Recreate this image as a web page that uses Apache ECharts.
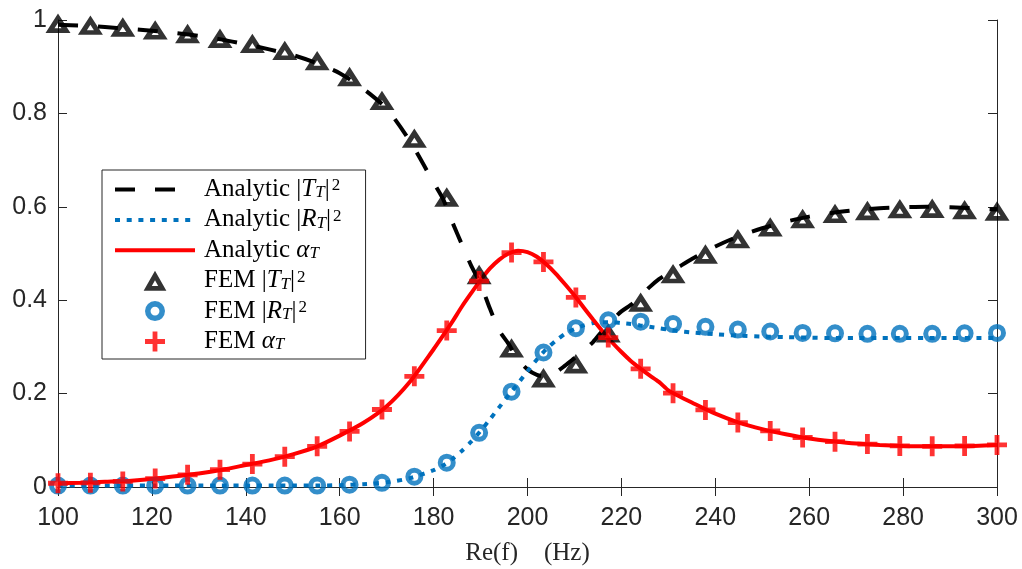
<!DOCTYPE html>
<html>
<head>
<meta charset="utf-8">
<script src="https://cdn.jsdelivr.net/npm/echarts@6/dist/echarts.min.js"></script>
<style>
  html, body { margin: 0; padding: 0; background: #fff; }
  #chart { width: 1022px; height: 569px; }
</style>
</head>
<body>
<div id="chart"></div>
<script>
// Frequency samples of the analytic curves (Hz)
const analyticFreq = [100,105,110,115,120,125,130,135,140,145,150,155,160,165,170,175,180,182,184,186,188,190,192,194,196,198,200,202,204,206,208,210,212,214,216,218,220,222,224,226,228,230,232,235,240,245,250,255,260,265,270,275,280,285,290,295,300];
// Analytic |T_T|^2
const analyticT = [0.990,0.988,0.985,0.981,0.977,0.972,0.966,0.958,0.948,0.937,0.925,0.908,0.886,0.853,0.810,0.740,0.652,0.617,0.567,0.520,0.474,0.435,0.382,0.335,0.306,0.272,0.252,0.240,0.236,0.245,0.260,0.276,0.292,0.311,0.335,0.357,0.376,0.390,0.408,0.428,0.445,0.458,0.470,0.488,0.515,0.537,0.554,0.568,0.579,0.587,0.593,0.597,0.599,0.600,0.599,0.597,0.594];
// Analytic |R_T|^2
const analyticR = [0.003,0.003,0.003,0.003,0.003,0.003,0.003,0.003,0.003,0.003,0.003,0.003,0.004,0.006,0.010,0.019,0.036,0.046,0.060,0.077,0.097,0.120,0.145,0.171,0.197,0.222,0.248,0.273,0.295,0.313,0.328,0.338,0.346,0.351,0.353,0.353,0.351,0.349,0.346,0.343,0.340,0.337,0.334,0.331,0.327,0.324,0.322,0.321,0.320,0.319,0.319,0.319,0.319,0.319,0.319,0.319,0.319];
// Analytic alpha_T
const analyticA = [0.008,0.009,0.011,0.013,0.017,0.023,0.029,0.037,0.047,0.057,0.070,0.086,0.110,0.137,0.173,0.226,0.295,0.324,0.354,0.386,0.415,0.443,0.468,0.487,0.500,0.506,0.503,0.493,0.477,0.457,0.434,0.410,0.384,0.358,0.333,0.310,0.289,0.270,0.254,0.239,0.225,0.207,0.196,0.181,0.157,0.138,0.124,0.113,0.104,0.098,0.093,0.090,0.088,0.087,0.087,0.088,0.090];

// FEM sample frequencies (Hz)
const femFreq = [100,106.9,113.8,120.7,127.6,134.5,141.4,148.3,155.2,162.1,169.0,175.9,182.8,189.7,196.6,203.4,210.3,217.2,224.1,231.0,237.9,244.8,251.7,258.6,265.5,272.4,279.3,286.2,293.1,300];
const femT = [0.993,0.989,0.985,0.979,0.971,0.961,0.950,0.935,0.913,0.879,0.828,0.747,0.621,0.455,0.298,0.234,0.264,0.330,0.396,0.457,0.499,0.532,0.557,0.575,0.586,0.592,0.596,0.597,0.594,0.591];
const femR = [0.003,0.003,0.003,0.003,0.003,0.003,0.003,0.003,0.003,0.005,0.009,0.022,0.052,0.116,0.204,0.288,0.340,0.357,0.354,0.349,0.343,0.337,0.333,0.330,0.329,0.328,0.328,0.328,0.329,0.330];
const femA = [0.008,0.009,0.012,0.018,0.026,0.037,0.049,0.065,0.087,0.119,0.166,0.237,0.335,0.441,0.502,0.482,0.406,0.320,0.253,0.201,0.165,0.138,0.120,0.106,0.097,0.092,0.088,0.087,0.088,0.090];

// Axis ticks
const xTicks = { min: 100, max: 300, interval: 20 };
const yTicks = { min: 0, max: 1, interval: 0.2 };

const pair = (xs, ys) => xs.map((x, i) => [x, ys[i]]);

const BLACK = '#000000';
const BLUE = '#0072BD';
const RED = '#FF0000';
const AXIS = '#262626';
// Filled "+" marker
const PLUS = 'path://M3.8,0H6.2V3.8H10V6.2H6.2V10H3.8V6.2H0V3.8H3.8Z';
// Thick open triangle: outer outline with a reversed inner triangle as the hole
const TRIANGLE = 'path://M12.5,0L25,22L0,22Z M12.5,10.6L9,16.77L16,16.77Z';
// Thick open circle: outer disc with a reversed inner disc as the hole
const RING = 'path://M9,0A9,9 0 1,1 9,18A9,9 0 1,1 9,0Z M9,5A4,4 0 1,0 9,13A4,4 0 1,0 9,5Z';

const names = {
  aT: '{n|Analytic }{n||}{i|T}{sub|T}{n||}{sup|2}',
  aR: '{n|Analytic }{n||}{i|R}{sub|T}{n||}{sup|2}',
  aA: '{n|Analytic }{i|α}{sub|T}',
  fT: '{n|FEM }{n||}{i|T}{sub|T}{n||}{sup|2}',
  fR: '{n|FEM }{n||}{i|R}{sub|T}{n||}{sup|2}',
  fA: '{n|FEM }{i|α}{sub|T}'
};

const serif = '"Liberation Serif", "DejaVu Serif", serif';
const sans = '"Liberation Sans", Arial, Helvetica, sans-serif';

const dashT = { color: BLACK, width: 4, type: [20, 20], cap: 'butt' };
const dotR = { color: BLUE, width: 4, type: [5, 6.7], cap: 'butt' };
const solidA = { color: RED, width: 4, type: 'solid' };

function axisCommon(extra) {
  return Object.assign({
    type: 'value',
    axisLine: { show: true, lineStyle: { color: AXIS, width: 1 } },
    axisTick: { show: true, inside: true, length: 9, lineStyle: { color: AXIS, width: 1 } },
    splitLine: { show: false }
  }, extra);
}

const chart = echarts.init(document.getElementById('chart'), null, { renderer: 'canvas' });

chart.setOption({
  animation: false,
  backgroundColor: '#ffffff',
  grid: { left: 58, right: 25, top: 20, bottom: 82, containLabel: false, outerBoundsMode: 'none' },
  xAxis: [
    axisCommon({
      min: xTicks.min, max: xTicks.max, interval: xTicks.interval,
      position: 'bottom',
      axisLabel: { color: AXIS, fontSize: 25, fontFamily: sans, margin: 19 },
      name: '{a|Re(f)}{b|(Hz)}',
      nameLocation: 'middle',
      nameGap: 54,
      nameTextStyle: {
        rich: {
          a: { fontFamily: serif, fontSize: 25, color: AXIS },
          b: { fontFamily: serif, fontSize: 25, color: AXIS, padding: [0, 0, 0, 26] }
        }
      }
    }),
    axisCommon({
      min: xTicks.min, max: xTicks.max, interval: xTicks.interval,
      position: 'top',
      axisLabel: { show: false }
    })
  ],
  yAxis: [
    axisCommon({
      min: yTicks.min, max: yTicks.max, interval: yTicks.interval,
      position: 'left',
      axisLabel: { color: AXIS, fontSize: 25, fontFamily: sans, margin: 11 }
    }),
    axisCommon({
      min: yTicks.min, max: yTicks.max, interval: yTicks.interval,
      position: 'right',
      axisLabel: { show: false }
    })
  ],
  legend: {
    orient: 'vertical',
    left: 102,
    top: 170,
    padding: [7, 24, 5, 11],
    itemGap: 5.4,
    itemWidth: 80,
    itemHeight: 20,
    symbolKeepAspect: true,
    backgroundColor: '#ffffff',
    borderColor: AXIS,
    borderWidth: 1,
    borderRadius: 0,
    selectedMode: false,
    textStyle: {
      color: '#000',
      padding: [0, 0, 0, 4],
      rich: {
        n: { fontFamily: serif, fontSize: 25, lineHeight: 24, color: '#000' },
        i: { fontFamily: serif, fontSize: 25, lineHeight: 24, fontStyle: 'italic', color: '#000' },
        sub: { fontFamily: serif, fontSize: 17, lineHeight: 9, fontStyle: 'italic', verticalAlign: 'bottom', color: '#000' },
        sup: { fontFamily: serif, fontSize: 17, lineHeight: 9, verticalAlign: 'top', color: '#000', padding: [0, 0, 0, 2] }
      }
    },
    data: [
      { name: names.aT, itemStyle: { opacity: 0 }, lineStyle: dashT },
      { name: names.aR, itemStyle: { opacity: 0 }, lineStyle: dotR },
      { name: names.aA, itemStyle: { opacity: 0 }, lineStyle: solidA },
      { name: names.fT },
      { name: names.fR },
      { name: names.fA }
    ]
  },
  series: [
    {
      name: names.aT, type: 'line', data: pair(analyticFreq, analyticT),
      symbol: 'none', smooth: 0.25, z: 2,
      lineStyle: dashT, itemStyle: { color: BLACK }
    },
    {
      name: names.aR, type: 'line', data: pair(analyticFreq, analyticR),
      symbol: 'none', smooth: 0.25, z: 2,
      lineStyle: dotR, itemStyle: { color: BLUE }
    },
    {
      name: names.aA, type: 'line', data: pair(analyticFreq, analyticA),
      symbol: 'none', smooth: 0.25, z: 2,
      lineStyle: solidA, itemStyle: { color: RED }
    },
    {
      name: names.fT, type: 'scatter', data: pair(femFreq, femT),
      symbol: TRIANGLE, symbolSize: [25, 22], symbolKeepAspect: true, z: 3,
      itemStyle: { color: BLACK, borderWidth: 0 }
    },
    {
      name: names.fR, type: 'scatter', data: pair(femFreq, femR),
      symbol: RING, symbolSize: 18, symbolKeepAspect: true, z: 3,
      itemStyle: { color: BLUE, borderWidth: 0 }
    },
    {
      name: names.fA, type: 'scatter', data: pair(femFreq, femA),
      symbol: PLUS, symbolSize: 20, z: 4,
      itemStyle: { color: RED, borderWidth: 0 }
    }
  ]
});
</script>
</body>
</html>
